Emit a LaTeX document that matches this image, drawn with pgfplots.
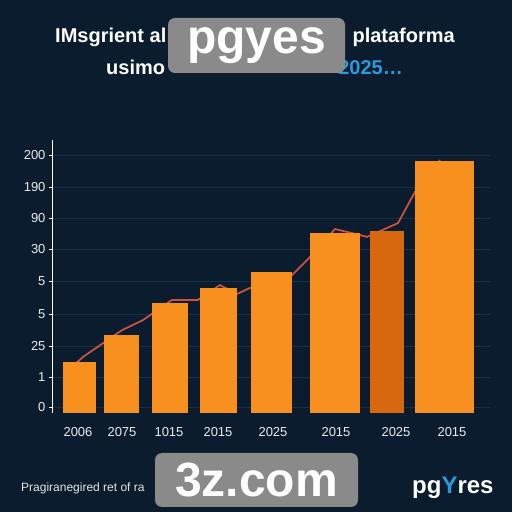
\documentclass[border=0pt]{standalone}
\usepackage{fontspec}
\setmainfont{Liberation Sans}
\usepackage{pgfplots}
\pgfplotsset{compat=1.18}
\definecolor{bg}{HTML}{0B1C2F}
\definecolor{barorange}{HTML}{F7901E}
\definecolor{bardark}{HTML}{D8680F}
\definecolor{linered}{HTML}{C8533F}
\definecolor{gridc}{HTML}{173049}
\definecolor{wm}{HTML}{8A8A8A}
\definecolor{blueacc}{HTML}{2A9AD8}
\begin{document}
\begin{tikzpicture}[x=1pt,y=1pt]
\useasboundingbox (0,0) rectangle (512,512);
\fill[bg] (0,0) rectangle (512,512);
\begin{axis}[
  at={(52pt,99pt)}, anchor=south west, scale only axis,
  width=438pt, height=273pt,
  xmin=52, xmax=490, ymin=0, ymax=8.667,
  axis lines*=left,
  x axis line style={draw=none},
  y axis line style={white, line width=0.8pt},
  xtick={78,122,169,218,273,336,396,452},
  xticklabels={2006,2075,1015,2015,2025,2015,2025,2015},
  xtick style={draw=none},
  xticklabel style={anchor=center, yshift=-16pt},
  ytick={0.19,1.14,2.13,3.14,4.19,5.21,6.19,7.17,8.19},
  yticklabels={0,1,25,5,5,30,90,190,200},
  ytick style={white, line width=0.6pt},
  tick align=outside, major tick length=3pt,
  ticklabel style={font=\fontsize{13}{15}\selectfont, text=white!92!black},
  ymajorgrids, grid style={gridc, line width=0.6pt},
]
\addplot[linered, line width=1.8pt] coordinates {
  (75,1.55) (83,1.78) (122,2.63) (143,2.95) (172,3.59) (198,3.59) (220,4.06)
  (237,3.78) (250,3.97) (292,4.38) (310,4.95) (335,5.84) (360,5.65) (367,5.59)
  (398,6.03) (415,7.02) (440,8.03)};
\addplot[ybar, bar shift=0pt, bar width=33, fill=barorange, draw=none] coordinates {(79.5,1.62)};
\addplot[ybar, bar shift=0pt, bar width=35, fill=barorange, draw=none] coordinates {(121.5,2.48)};
\addplot[ybar, bar shift=0pt, bar width=36, fill=barorange, draw=none] coordinates {(170,3.49)};
\addplot[ybar, bar shift=0pt, bar width=37, fill=barorange, draw=none] coordinates {(218.5,3.97)};
\addplot[ybar, bar shift=0pt, bar width=41, fill=barorange, draw=none] coordinates {(271.5,4.48)};
\addplot[ybar, bar shift=0pt, bar width=50, fill=barorange, draw=none] coordinates {(335,5.71)};
\addplot[ybar, bar shift=0pt, bar width=34, fill=bardark, draw=none] coordinates {(387,5.78)};
\addplot[ybar, bar shift=0pt, bar width=59, fill=barorange, draw=none] coordinates {(444.5,8.0)};
\end{axis}
% titles
\node[anchor=base west, inner sep=0, text=white, font=\fontsize{20}{23}\selectfont\bfseries] at (55,469) {IMsgrient al};
\node[anchor=base east, inner sep=0, text=white, font=\fontsize{20}{23}\selectfont\bfseries] at (455,469) {plataforma};
\node[anchor=base west, inner sep=0, text=white, font=\fontsize{20}{23}\selectfont\bfseries] at (106,437) {usimo};
\node[anchor=base east, inner sep=0, text=blueacc, font=\fontsize{20}{23}\selectfont\bfseries] at (403,437) {2025\ldots};
% footer
\node[anchor=base west, inner sep=0, text=white!90!black, font=\fontsize{12}{14}\selectfont] at (21,20) {Pragiranegired ret of ra};
\node[anchor=base west, inner sep=0, text=white, font=\fontsize{24}{26}\selectfont\bfseries] at (412,19) {pg\textcolor{blueacc}{Y}res};
% watermarks
\fill[wm, rounded corners=7pt] (168,439) rectangle (345,494);
\node[inner sep=0, text=white, font=\fontsize{48}{50}\selectfont\bfseries] at (256.5,466.5) {pgyes};
\fill[wm, rounded corners=7pt] (155,5) rectangle (358,59);
\node[inner sep=0, text=white, font=\fontsize{48}{50}\selectfont\bfseries] at (256.5,32) {3z.com};
\end{tikzpicture}
\end{document}
